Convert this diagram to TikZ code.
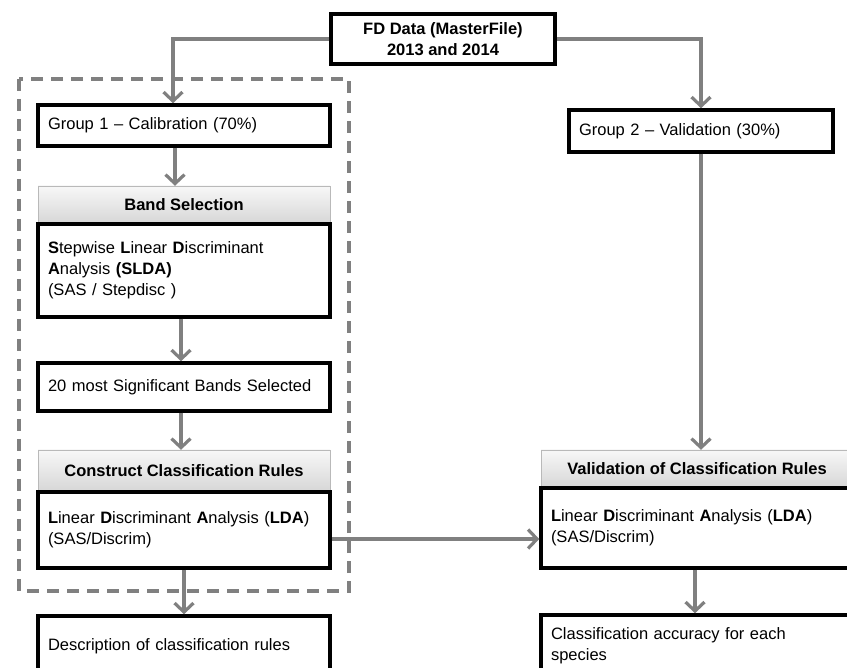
\documentclass[tikz,border=0pt]{standalone}
\usepackage{fontspec}
\setmainfont{Liberation Sans}
\usetikzlibrary{arrows.meta}
\begin{document}
\begin{tikzpicture}[x=1pt,y=-1pt,
  every node/.style={font=\fontsize{16.5}{21}\selectfont},
  box/.style={draw,line width=3.5pt,inner xsep=10pt,align=left},
  head/.style={draw=gray!55,thin,top color=gray!6,bottom color=gray!32,
    font=\fontsize{16.5}{21}\selectfont\bfseries},
  conn/.style={draw=gray,line width=3.2pt,-{Straight Barb[length=9pt,width=19pt]}}]
  \clip (0,0) rectangle (847,668);
  % calibration frame
  \draw[gray,line width=3.2pt,dash pattern=on 12pt off 8pt] (19,79) rectangle (349,591);
  \node[box,align=center,font=\fontsize{16.5}{21}\selectfont\bfseries,minimum width=224pt,minimum height=50pt] (fd) at (443,39) {FD Data (MasterFile)\\2013 and 2014};
  % left column
  \node[box,text width=272pt,minimum height=41pt] (grpa) at (184,125.5) {Group 1 -- Calibration (70\%)};
  \node[head,minimum width=292pt,minimum height=38pt] (bandhead) at (184,205) {Band Selection};
  \node[box,text width=272pt,minimum height=93pt] (bandbody) at (184,270.5) {\textbf{S}tepwise \textbf{L}inear \textbf{D}iscriminant\\\textbf{A}nalysis \textbf{(SLDA)}\\(SAS / Stepdisc )};
  \node[box,text width=272pt,minimum height=48pt] (sig) at (184,387) {20 most Significant Bands Selected};
  \node[head,minimum width=292pt,minimum height=42pt] (conhead) at (184,471) {Construct Classification Rules};
  \node[box,text width=272pt,minimum height=76pt] (conbody) at (184,530) {\textbf{L}inear \textbf{D}iscriminant \textbf{A}nalysis (\textbf{LDA})\\(SAS/Discrim)};
  \node[box,text width=272pt,minimum height=60pt] (desc) at (184,646) {Description of classification rules};
  % right column
  \node[box,text width=244pt,minimum height=42pt] (grpb) at (701,131) {Group 2 -- Validation (30\%)};
  \node[head,minimum width=312pt,minimum height=38pt] (valhead) at (697,469) {Validation of Classification Rules};
  \node[box,text width=292pt,minimum height=80pt] (valbody) at (697,528) {\textbf{L}inear \textbf{D}iscriminant \textbf{A}nalysis (\textbf{LDA})\\(SAS/Discrim)};
  \node[box,text width=292pt,minimum height=62pt] (acc) at (697,646) {Classification accuracy for each\\species};
  % connectors
  \draw[conn] (fd.west) -| ([xshift=-11pt]grpa.north);
  \draw[conn] (fd.east) -| (grpb.north);
  \draw[conn] ([xshift=-9pt]grpa.south) -- ([xshift=-9pt]bandhead.north);
  \draw[conn] ([xshift=-3pt]bandbody.south) -- ([xshift=-3pt]sig.north);
  \draw[conn] ([xshift=-3pt]sig.south) -- ([xshift=-3pt]conhead.north);
  \draw[conn] (conbody.south) -- (desc.north);
  \draw[conn] (grpb.south) -- (grpb.south |- valhead.north);
  \coordinate (lnk) at ([yshift=-9pt]conbody.east);
  \draw[conn] (lnk) -- (lnk -| valbody.west);
  \draw[conn] ([xshift=-2pt]valbody.south) -- ([xshift=-2pt]acc.north);
\end{tikzpicture}
\end{document}
